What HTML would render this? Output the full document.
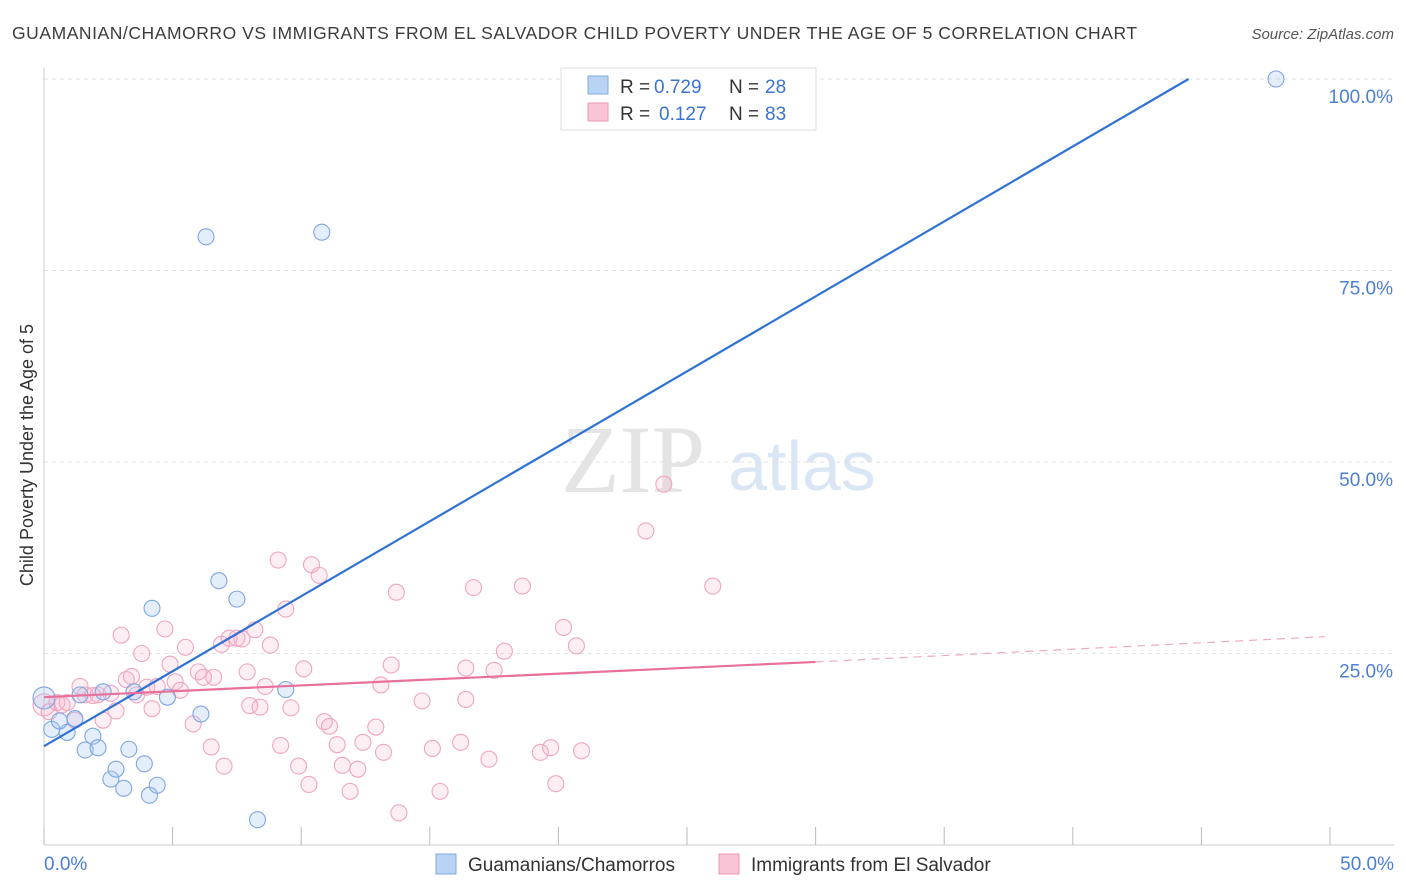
<!DOCTYPE html>
<html><head><meta charset="utf-8">
<style>
body{margin:0;background:#fff;font-family:"Liberation Sans",sans-serif;}
svg{display:block}
</style></head>
<body>
<svg id="chart" width="1406" height="892">
<text x="12" y="39" font-size="17.5" letter-spacing="0.55" fill="#3c3c3c">GUAMANIAN/CHAMORRO VS IMMIGRANTS FROM EL SALVADOR CHILD POVERTY UNDER THE AGE OF 5 CORRELATION CHART</text>
<text x="1394" y="39" font-size="15" fill="#555" font-style="italic" text-anchor="end">Source: ZipAtlas.com</text>
<text x="633" y="492" font-size="96" fill="#e4e4e4" font-family="Liberation Serif,serif" text-anchor="middle">ZIP</text>
<text x="802" y="490" font-size="70" fill="#dbe6f5" text-anchor="middle">atlas</text>
<text transform="translate(33,455) rotate(-90)" font-size="18" fill="#333" text-anchor="middle">Child Poverty Under the Age of 5</text>
<g id="grid"></g><g id="marks"></g>
<g>
<rect x="561" y="68" width="255" height="62" fill="#fff" stroke="#ddd"/>
<rect x="588" y="76" width="20" height="18" fill="#b9d3f5" stroke="#7ea8e0"/>
<rect x="588" y="103" width="20" height="18" fill="#f9c5d6" stroke="#ee95b2"/>
<text x="620" y="93" font-size="19" fill="#333">R = </text><text x="654" y="93" font-size="19" fill="#3b73d1">0.729</text>
<text x="729" y="93" font-size="19" fill="#333">N = </text><text x="765" y="93" font-size="19" fill="#3b73d1">28</text>
<text x="620" y="120" font-size="19" fill="#333">R = </text><text x="659" y="120" font-size="19" fill="#3b73d1">0.127</text>
<text x="729" y="120" font-size="19" fill="#333">N = </text><text x="765" y="120" font-size="19" fill="#3b73d1">83</text>
</g>
<g>
<rect x="436" y="854" width="20" height="20" fill="#b9d3f5" stroke="#7ea8e0"/>
<text x="468" y="871" font-size="19" fill="#333">Guamanians/Chamorros</text>
<rect x="719" y="854" width="20" height="20" fill="#f9c5d6" stroke="#ee95b2"/>
<text x="751" y="871" font-size="19" fill="#333">Immigrants from El Salvador</text>
</g>
<text x="44" y="870" font-size="19" fill="#4a7fd6">0.0%</text>
<text x="1394" y="870" font-size="19" fill="#4a7fd6" text-anchor="end">50.0%</text>
</svg>
<script>
const yTicks=[25,50,75,100];
const blueX=[0,0.3,0.9,1.2,1.6,1.9,2.1,1.4,2.3,2.6,2.8,3.1,3.3,3.5,3.9,4.1,4.2,4.4,4.8,6.1,6.3,6.8,7.5,8.3,9.4,10.8,47.9,0.6];
const blueY=[19.2,15.1,14.7,16.5,12.4,14.2,12.7,19.6,20,8.6,9.9,7.4,12.5,20,10.6,6.5,30.9,7.8,19.3,17.1,79.4,34.5,32.1,3.3,20.3,80,100,16.2];
const pinkX=[0,0.2,0.5,0.7,0.9,1.2,1.4,1.6,1.9,2.1,2.3,2.6,2.8,3,3.2,3.4,3.6,3.8,4,4.2,4.4,4.7,4.9,5.1,5.3,5.5,5.8,6,6.2,6.5,6.6,7,6.9,7.2,7.5,7.7,7.9,8,8.2,8.4,8.6,8.8,9.1,9.2,9.4,9.6,9.9,10.1,10.3,10.4,10.7,10.9,11.1,11.4,11.6,11.9,12.2,12.4,12.9,13.1,13.2,13.5,13.7,13.8,14.7,15.1,15.4,16.2,16.4,16.4,16.7,17.3,17.5,17.9,18.6,19.3,19.7,19.9,20.2,20.7,20.9,23.4,24.1,26];
const pinkY=[18.3,17.4,18.6,18.3,18.6,16.3,20.7,19.6,19.5,19.6,16.3,19.8,17.5,27.4,21.6,22,19.6,25,20.6,17.8,20.7,28.2,23.6,21.3,20.2,25.8,15.8,22.6,21.9,12.8,21.9,10.3,26.2,27,27,26.9,22.6,18.2,28.1,18,20.7,26.1,37.2,13,30.8,17.9,10.3,23,7.9,36.6,35.2,16.1,15.5,13.1,10.4,7,9.9,13.4,15.4,20.9,12.1,23.5,33,4.2,18.8,12.6,7,13.4,23.1,19,33.6,11.2,22.8,25.3,33.8,12.1,12.7,8,28.4,26,12.3,41,47.1,33.8];
const blueLine=[[0,12.9],[44.5,100]];
const pinkLine=[[0,19.3],[30,23.9]];
const pinkDash=[[30,23.9],[49.8,27.2]];
const X=v=>44+v*25.72, Y=v=>845-v*7.66;
const NS="http://www.w3.org/2000/svg";
const grid=document.getElementById('grid'), marks=document.getElementById('marks');
function mk(tag,attrs,parent){const e=document.createElementNS(NS,tag);for(const k in attrs)e.setAttribute(k,attrs[k]);parent.appendChild(e);return e;}
yTicks.forEach(t=>{
 const l=mk('line',{x1:44,x2:1394,y1:Y(t),y2:Y(t),stroke:'#e2e2e2','stroke-dasharray':'4,4'},grid);
 
 
 const tx=mk('text',{x:1393,y:Y(t)+24,'font-size':19,fill:'#4a7fd6','text-anchor':'end'},grid);
 tx.textContent=t.toFixed(1)+'%';
 
 
});
const ax=mk('line',{x1:44,x2:1394,y1:845,y2:845,stroke:'#ccc'},grid);


const ay=mk('line',{x1:44,x2:44,y1:68,y2:845,stroke:'#ccc'},grid);


for(let i=0;i<=10;i++){const t=mk('line',{x1:X(i*5),x2:X(i*5),y1:827,y2:845,stroke:'#bbb'},grid);
 
 }
pinkX.forEach((v,i)=>{const c=mk('circle',{cx:X(v),cy:Y(pinkY[i]),r:i==0?11:8,fill:'rgba(247,176,200,0.22)',stroke:'#f0a5bf','stroke-width':1.1},marks);
 
 });
blueX.forEach((v,i)=>{const c=mk('circle',{cx:X(v),cy:Y(blueY[i]),r:i==0?11:8,fill:'rgba(164,198,242,0.3)',stroke:'#7ea6e2','stroke-width':1.1},marks);
 
 });
const bl=mk('line',{x1:X(blueLine[0][0]),y1:Y(blueLine[0][1]),x2:X(blueLine[1][0]),y2:Y(blueLine[1][1]),stroke:'#2f72d6','stroke-width':2.2},marks);


const pl=mk('line',{x1:X(pinkLine[0][0]),y1:Y(pinkLine[0][1]),x2:X(pinkLine[1][0]),y2:Y(pinkLine[1][1]),stroke:'#e8709a','stroke-width':2.2},marks);


const pd=mk('line',{x1:X(pinkDash[0][0]),y1:Y(pinkDash[0][1]),x2:X(pinkDash[1][0]),y2:Y(pinkDash[1][1]),stroke:'#eeaac2','stroke-width':1.2,'stroke-dasharray':'8,6'},marks);


</script>
</body></html>
